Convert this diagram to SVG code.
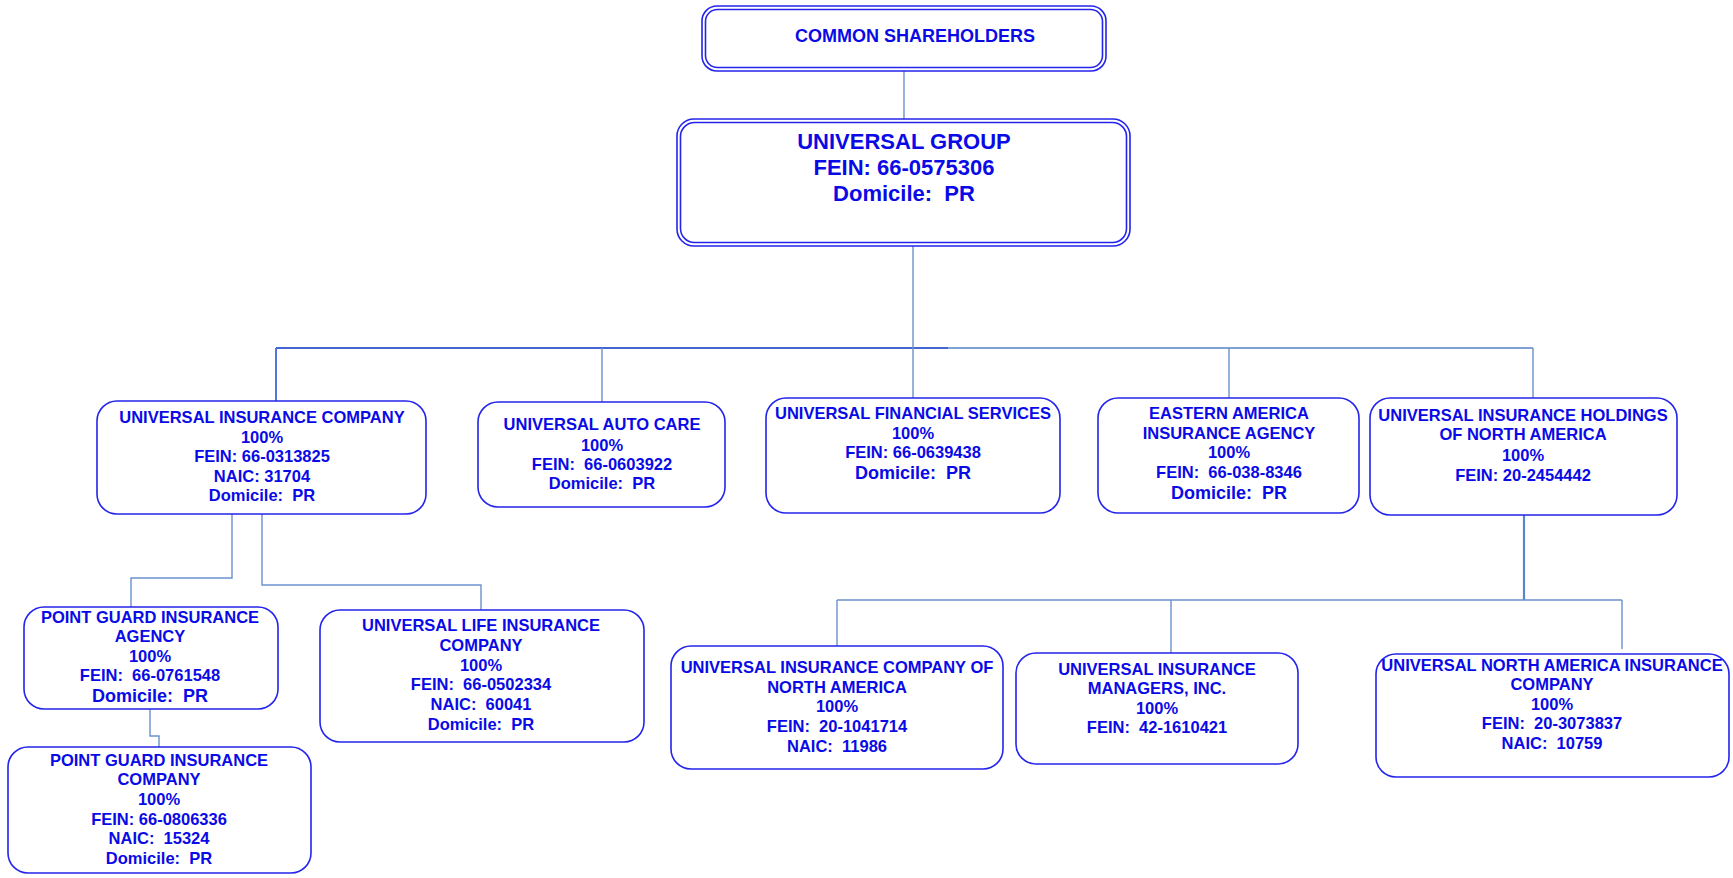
<svg xmlns="http://www.w3.org/2000/svg" width="1733" height="878" viewBox="0 0 1733 878">
<style>
.bg{fill:#ffffff}
.box{fill:#ffffff;stroke:#2424ec;stroke-width:1.6}
.dbl{fill:none;stroke:#2424ec;stroke-width:1.6}
text{font-family:"Liberation Sans",Arial,sans-serif;font-weight:bold;fill:#0a0ae6;text-anchor:middle;white-space:pre}
.t16{font-size:16.5px}
.t18{font-size:18px}
.t22{font-size:22px}
.c{fill:none;stroke:#6a92cc;stroke-width:1.4}
.cd{fill:none;stroke:#4466d4;stroke-width:1.8}
.cl{fill:none;stroke:#7fa2d4;stroke-width:1.8}
.ct{fill:none;stroke:#5c86c8;stroke-width:2.2}
</style>
<rect class="bg" x="0" y="0" width="1733" height="878"/>
<g id="connectors">
<line class="c" x1="904" y1="71" x2="904" y2="119"/>
<line class="cd" x1="276" y1="348" x2="948" y2="348"/>
<line class="cl" x1="948" y1="348" x2="1533" y2="348"/>
<line class="c" x1="913" y1="246" x2="913" y2="398"/>
<line class="cd" x1="276" y1="348" x2="276" y2="401"/>
<line class="c" x1="602" y1="348" x2="602" y2="402"/>
<line class="c" x1="1229" y1="348" x2="1229" y2="398"/>
<line class="c" x1="1533" y1="348" x2="1533" y2="398"/>
<path class="c" d="M232 514 V578 H131 V607"/>
<path class="c" d="M262 514 V585 H481 V610"/>
<path class="c" d="M150 709 V736 H159 V747"/>
<line class="ct" x1="1524" y1="515" x2="1524" y2="600"/>
<line class="c" x1="837" y1="600" x2="1622" y2="600"/>
<line class="c" x1="837" y1="600" x2="837" y2="646"/>
<line class="c" x1="1171" y1="600" x2="1171" y2="653"/>
<line class="c" x1="1622" y1="600" x2="1622" y2="649"/>
</g>
<g id="common-shareholders">
<rect class="dbl" x="702" y="6" width="404" height="65" rx="15"/>
<rect class="dbl" x="705.5" y="9.5" width="397" height="58" rx="12"/>
<text class="t18" x="915" y="42">COMMON SHAREHOLDERS</text>
</g>
<g id="universal-group">
<rect class="dbl" x="677" y="119" width="453" height="127" rx="17"/>
<rect class="dbl" x="680.5" y="122.5" width="446" height="120" rx="14"/>
<text class="t22" x="904" y="149">UNIVERSAL GROUP</text>
<text class="t22" x="904" y="175">FEIN: 66-0575306</text>
<text class="t22" x="904" y="201">Domicile:  PR</text>
</g>
<g id="universal-insurance-company">
<rect class="box" x="97" y="401" width="329" height="113" rx="20"/>
<text class="t16" x="262" y="423">UNIVERSAL INSURANCE COMPANY</text>
<text class="t16" x="262" y="443">100%</text>
<text class="t16" x="262" y="462">FEIN: 66-0313825</text>
<text class="t16" x="262" y="482">NAIC: 31704</text>
<text class="t16" x="262" y="501">Domicile:  PR</text>
</g>
<g id="universal-auto-care">
<rect class="box" x="478" y="402" width="247" height="105" rx="20"/>
<text class="t16" x="602" y="430">UNIVERSAL AUTO CARE</text>
<text class="t16" x="602" y="451">100%</text>
<text class="t16" x="602" y="470">FEIN:  66-0603922</text>
<text class="t16" x="602" y="489">Domicile:  PR</text>
</g>
<g id="universal-financial-services">
<rect class="box" x="766" y="398" width="294" height="115" rx="20"/>
<text class="t16" x="913" y="419">UNIVERSAL FINANCIAL SERVICES</text>
<text class="t16" x="913" y="439">100%</text>
<text class="t16" x="913" y="458">FEIN: 66-0639438</text>
<text class="t18" x="913" y="479">Domicile:  PR</text>
</g>
<g id="eastern-america-insurance-agency">
<rect class="box" x="1098" y="398" width="261" height="115" rx="20"/>
<text class="t16" x="1229" y="419">EASTERN AMERICA</text>
<text class="t16" x="1229" y="439">INSURANCE AGENCY</text>
<text class="t16" x="1229" y="458">100%</text>
<text class="t16" x="1229" y="478">FEIN:  66-038-8346</text>
<text class="t18" x="1229" y="499">Domicile:  PR</text>
</g>
<g id="universal-insurance-holdings">
<rect class="box" x="1370" y="398" width="307" height="117" rx="20"/>
<text class="t16" x="1523" y="421">UNIVERSAL INSURANCE HOLDINGS</text>
<text class="t16" x="1523" y="440">OF NORTH AMERICA</text>
<text class="t16" x="1523" y="461">100%</text>
<text class="t16" x="1523" y="481">FEIN: 20-2454442</text>
</g>
<g id="point-guard-agency">
<rect class="box" x="24" y="607" width="254" height="102" rx="20"/>
<text class="t16" x="150" y="623">POINT GUARD INSURANCE</text>
<text class="t16" x="150" y="642">AGENCY</text>
<text class="t16" x="150" y="662">100%</text>
<text class="t16" x="150" y="681">FEIN:  66-0761548</text>
<text class="t18" x="150" y="702">Domicile:  PR</text>
</g>
<g id="universal-life">
<rect class="box" x="320" y="610" width="324" height="132" rx="20"/>
<text class="t16" x="481" y="631">UNIVERSAL LIFE INSURANCE</text>
<text class="t16" x="481" y="651">COMPANY</text>
<text class="t16" x="481" y="671">100%</text>
<text class="t16" x="481" y="690">FEIN:  66-0502334</text>
<text class="t16" x="481" y="710">NAIC:  60041</text>
<text class="t16" x="481" y="730">Domicile:  PR</text>
</g>
<g id="point-guard-company">
<rect class="box" x="8" y="747" width="303" height="126" rx="20"/>
<text class="t16" x="159" y="766">POINT GUARD INSURANCE</text>
<text class="t16" x="159" y="785">COMPANY</text>
<text class="t16" x="159" y="805">100%</text>
<text class="t16" x="159" y="825">FEIN: 66-0806336</text>
<text class="t16" x="159" y="844">NAIC:  15324</text>
<text class="t16" x="159" y="864">Domicile:  PR</text>
</g>
<g id="universal-insurance-company-na">
<rect class="box" x="671" y="646" width="332" height="123" rx="20"/>
<text class="t16" x="837" y="673">UNIVERSAL INSURANCE COMPANY OF</text>
<text class="t16" x="837" y="693">NORTH AMERICA</text>
<text class="t16" x="837" y="712">100%</text>
<text class="t16" x="837" y="732">FEIN:  20-1041714</text>
<text class="t16" x="837" y="752">NAIC:  11986</text>
</g>
<g id="universal-insurance-managers">
<rect class="box" x="1016" y="653" width="282" height="111" rx="20"/>
<text class="t16" x="1157" y="675">UNIVERSAL INSURANCE</text>
<text class="t16" x="1157" y="694">MANAGERS, INC.</text>
<text class="t16" x="1157" y="714">100%</text>
<text class="t16" x="1157" y="733">FEIN:  42-1610421</text>
</g>
<g id="universal-north-america-insurance">
<rect class="box" x="1376" y="654" width="353" height="123" rx="20"/>
<text class="t16" x="1552" y="671">UNIVERSAL NORTH AMERICA INSURANCE</text>
<text class="t16" x="1552" y="690">COMPANY</text>
<text class="t16" x="1552" y="710">100%</text>
<text class="t16" x="1552" y="729">FEIN:  20-3073837</text>
<text class="t16" x="1552" y="749">NAIC:  10759</text>
</g>
</svg>
